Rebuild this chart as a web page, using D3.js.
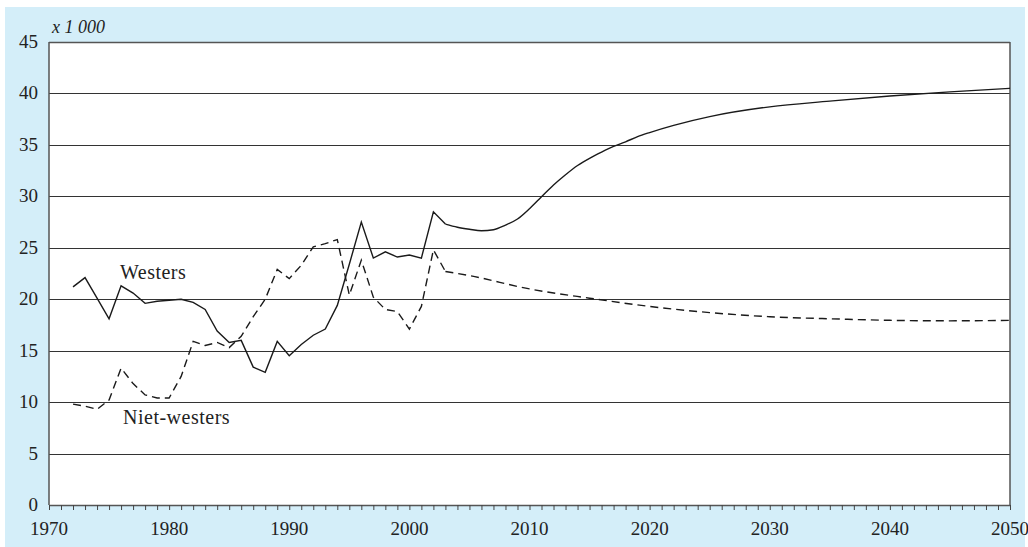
<!DOCTYPE html>
<html>
<head>
    <meta charset="utf-8">
    <script src="https://d3js.org/d3.v7.min.js"></script>
    <style>
        body { margin: 0; background: #fff; }
        text { font-family: 'Liberation Serif', serif; fill: #222; }
    </style>
</head>
<body>
    <svg id="chart" width="1028" height="547"></svg>
    <script>
        // observed years (linear) and projection (smooth)
        var westersYears = [1972, 1973, 1974, 1975, 1976, 1977, 1978, 1979, 1980, 1981, 1982, 1983, 1984, 1985, 1986, 1987, 1988, 1989, 1990, 1991, 1992, 1993, 1994, 1995, 1996, 1997, 1998, 1999, 2000, 2001, 2002, 2003];
        var westersValues = [21.2, 22.1, 20.1, 18.1, 21.3, 20.6, 19.6, 19.8, 19.9, 20.0, 19.7, 19.0, 16.9, 15.8, 16.0, 13.4, 12.9, 15.9, 14.5, 15.6, 16.5, 17.1, 19.4, 23.4, 27.5, 24.0, 24.6, 24.1, 24.3, 24.0, 28.5, 27.3];
        var westersProjYears = [2003, 2004, 2005, 2006, 2007, 2008, 2009, 2010, 2011, 2012, 2013, 2014, 2015, 2016, 2017, 2018, 2019, 2020, 2022, 2025, 2030, 2035, 2040, 2045, 2050];
        var westersProjValues = [27.3, 27.0, 26.8, 26.65, 26.75, 27.2, 27.8, 28.8, 29.95, 31.1, 32.1, 33.0, 33.7, 34.3, 34.85, 35.3, 35.8, 36.2, 36.9, 37.75, 38.7, 39.25, 39.75, 40.15, 40.5];

        var nietYears = [1972, 1973, 1974, 1975, 1976, 1977, 1978, 1979, 1980, 1981, 1982, 1983, 1984, 1985, 1986, 1987, 1988, 1989, 1990, 1991, 1992, 1993, 1994, 1995, 1996, 1997, 1998, 1999, 2000, 2001, 2002, 2003];
        var nietValues = [9.8, 9.6, 9.3, 10.2, 13.3, 11.8, 10.7, 10.4, 10.4, 12.5, 15.9, 15.5, 15.8, 15.3, 16.4, 18.3, 20.0, 22.9, 22.0, 23.3, 25.1, 25.4, 25.8, 20.4, 23.8, 20.2, 19.0, 18.8, 17.1, 19.3, 24.8, 22.7];
        var nietProjYears = [2003, 2005, 2010, 2015, 2020, 2025, 2030, 2035, 2040, 2045, 2050];
        var nietProjValues = [22.7, 22.3, 21.0, 20.1, 19.3, 18.7, 18.3, 18.1, 17.95, 17.9, 17.95];

        var yTicks = [0, 5, 10, 15, 20, 25, 30, 35, 40, 45];
        var xTicks = [1970, 1980, 1990, 2000, 2010, 2020, 2030, 2040, 2050];

        var svg = d3.select("#chart");
        var plotLeft = 49, plotRight = 1010, plotTop = 42, plotBottom = 505;

        var x = d3.scaleLinear().domain([1970, 2050]).range([plotLeft, plotRight]);
        var y = d3.scaleLinear().domain([0, 45]).range([plotBottom, plotTop]);

        // background panel
        svg.append("rect")
            .attr("x", 5).attr("y", 7)
            .attr("width", 1020).attr("height", 540)
            .attr("fill", "#d4eef9");
        svg.append("rect")
            .attr("x", plotLeft).attr("y", plotTop)
            .attr("width", plotRight - plotLeft).attr("height", plotBottom - plotTop)
            .attr("fill", "#fff");

        // gridlines (45 is the top border)
        svg.append("g")
            .selectAll("line")
            .data(yTicks.filter(d => d > 0))
            .enter().append("line")
            .attr("x1", plotLeft).attr("x2", plotRight)
            .attr("y1", d => Math.round(y(d)) + 0.5).attr("y2", d => Math.round(y(d)) + 0.5)
            .attr("stroke", d => d === 45 ? "#555" : "#333")
            .attr("stroke-width", d => d === 45 ? 1.5 : 1);

        // right border
        svg.append("line")
            .attr("x1", plotRight).attr("x2", plotRight)
            .attr("y1", plotTop).attr("y2", plotBottom)
            .attr("stroke", "#555").attr("stroke-width", 1.5);

        // x axis with yearly ticks
        var xAxis = svg.append("g")
            .attr("transform", "translate(0," + plotBottom + ")")
            .call(d3.axisBottom(x).tickValues(d3.range(1970, 2051)).tickSize(5).tickSizeOuter(0).tickFormat(""));
        xAxis.select(".domain").attr("stroke", "#555").attr("stroke-width", 1.5);
        xAxis.selectAll(".tick line").attr("stroke", "#444");

        svg.append("g")
            .selectAll("text")
            .data(xTicks)
            .enter().append("text")
            .attr("x", d => x(d))
            .attr("y", 535)
            .attr("text-anchor", "middle")
            .attr("font-size", 19)
            .text(d => d);

        // y axis
        svg.append("line")
            .attr("x1", plotLeft).attr("x2", plotLeft)
            .attr("y1", plotTop).attr("y2", plotBottom)
            .attr("stroke", "#555").attr("stroke-width", 1.5);

        svg.append("g")
            .selectAll("text")
            .data(yTicks)
            .enter().append("text")
            .attr("x", 38)
            .attr("y", d => y(d) + 6)
            .attr("text-anchor", "end")
            .attr("font-size", 19)
            .text(d => d);

        svg.append("text")
            .attr("x", 52).attr("y", 33)
            .attr("font-size", 18)
            .attr("font-style", "italic")
            .text("x 1 000");

        // series
        var lineLinear = d3.line().x(d => x(d[0])).y(d => y(d[1]));
        var lineSmooth = d3.line().x(d => x(d[0])).y(d => y(d[1])).curve(d3.curveMonotoneX);

        function drawSeries(years, values, gen, dash) {
            svg.append("path")
                .datum(d3.zip(years, values))
                .attr("d", gen)
                .attr("fill", "none")
                .attr("stroke", "#1a1a1a")
                .attr("stroke-width", 1.4)
                .attr("stroke-dasharray", dash);
        }

        drawSeries(westersYears, westersValues, lineLinear, null);
        drawSeries(westersProjYears, westersProjValues, lineSmooth, null);
        drawSeries(nietYears, nietValues, lineLinear, "8,5");
        drawSeries(nietProjYears, nietProjValues, lineSmooth, "8,5");

        // labels
        svg.append("text")
            .attr("x", 120).attr("y", 279)
            .attr("font-size", 20)
            .attr("letter-spacing", 0.5)
            .text("Westers");
        svg.append("text")
            .attr("x", 123).attr("y", 424)
            .attr("font-size", 20)
            .attr("letter-spacing", 0.5)
            .text("Niet-westers");
    </script>
</body>
</html>
